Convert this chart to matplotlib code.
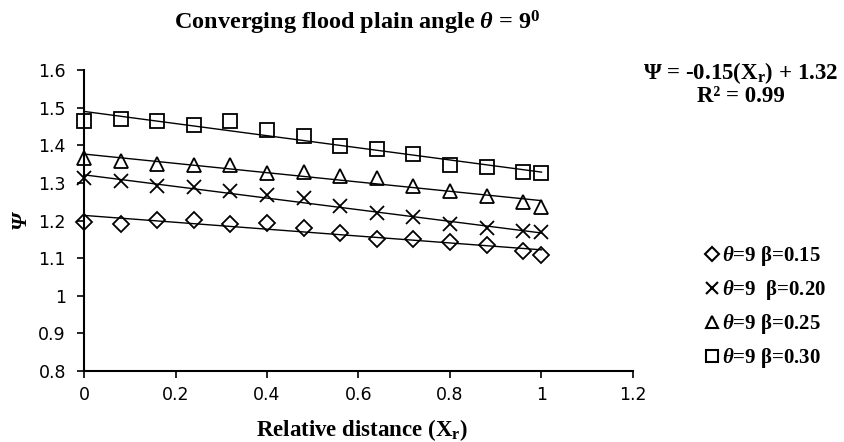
import matplotlib
matplotlib.use("Agg")
import matplotlib.pyplot as plt
from matplotlib.lines import Line2D
import numpy as np

plt.rcParams['mathtext.fontset'] = 'custom'
plt.rcParams['mathtext.rm'] = 'Liberation Serif:bold'
plt.rcParams['mathtext.bf'] = 'Liberation Serif:bold'
plt.rcParams['mathtext.it'] = 'Liberation Serif:bold:italic'
plt.rcParams['mathtext.bfit'] = 'Liberation Serif:bold:italic'

# relative distance along the channel
xr = [0, 0.08, 0.16, 0.24, 0.32, 0.40, 0.48, 0.56, 0.64, 0.72, 0.80, 0.88, 0.96, 1.0]

psi_015 = [1.197, 1.192, 1.201, 1.201, 1.190, 1.194, 1.179, 1.168, 1.150, 1.150, 1.142, 1.135, 1.119, 1.109]
psi_020 = [1.312, 1.306, 1.292, 1.288, 1.279, 1.267, 1.259, 1.238, 1.220, 1.208, 1.190, 1.180, 1.171, 1.170]
psi_025 = [1.366, 1.357, 1.351, 1.347, 1.347, 1.327, 1.329, 1.319, 1.312, 1.292, 1.279, 1.265, 1.250, 1.235]
psi_030 = [1.465, 1.469, 1.464, 1.454, 1.464, 1.440, 1.425, 1.398, 1.389, 1.378, 1.347, 1.342, 1.329, 1.327]

labels = [r"$\mathbfit{\theta}$=9 β=0.15",
          r"$\mathbfit{\theta}$=9  β=0.20",
          r"$\mathbfit{\theta}$=9 β=0.25",
          r"$\mathbfit{\theta}$=9 β=0.30"]
markers = ["D", "x", "^", "s"]
sizes = [8.5, 10, 10, 10]

xticks = [0, 0.2, 0.4, 0.6, 0.8, 1.0, 1.2]
xticklabels = ["0", "0.2", "0.4", "0.6", "0.8", "1", "1.2"]
yticks = [0.8, 0.9, 1.0, 1.1, 1.2, 1.3, 1.4, 1.5, 1.6]
yticklabels = ["0.8", "0.9", "1", "1.1", "1.2", "1.3", "1.4", "1.5", "1.6"]

W, H = 845, 442
fig = plt.figure(figsize=(W / 100, H / 100), dpi=100)
ax = fig.add_axes([84 / W, 1 - 371 / H, (633 - 84) / W, (371 - 70) / H])

series = [psi_015, psi_020, psi_025, psi_030]
handles = []
x = np.array(xr)
for ys, m, s, lab in zip(series, markers, sizes, labels):
    ax.plot(xr, ys, linestyle="none", marker=m, markersize=s,
            markerfacecolor="none", markeredgecolor="black", markeredgewidth=1.3,
            clip_on=False, zorder=3)
    # linear trend line
    k, b = np.polyfit(x, ys, 1)
    xx = np.array([0, 1.0])
    ax.plot(xx, k * xx + b, color="black", lw=1.0, zorder=2)
    handles.append(Line2D([], [], linestyle="none", marker=m, markersize=s * 0.8,
                          markerfacecolor="none", markeredgecolor="black",
                          markeredgewidth=1.5, label=lab))

ax.set_xlim(0, 1.2)
ax.set_ylim(0.8, 1.6)
ax.set_xticks(xticks)
ax.set_xticklabels(xticklabels)
ax.set_yticks(yticks)
ax.set_yticklabels(yticklabels)
for sp in ["top", "right"]:
    ax.spines[sp].set_visible(False)
for sp in ["left", "bottom"]:
    ax.spines[sp].set_linewidth(1.5)
ax.tick_params(direction="out", length=5, width=1.2, labelsize=12.5)
ax.tick_params(axis="x", pad=6)
ax.tick_params(axis="y", pad=8)
for t in ax.get_xticklabels() + ax.get_yticklabels():
    t.set_family(["Liberation Sans Narrow", "DejaVu Sans"])

serif = dict(family="Liberation Serif", fontweight="bold")
fig.text(357 / W, 1 - 23 / H, r"Converging flood plain angle $\mathbfit{\theta}$ = 9$^{\mathbf{0}}$",
         ha="center", va="center", fontsize=17.5, **serif)
fig.text(741 / W, 1 - 73 / H, r"Ψ = -0.15(X$_{\mathbf{r}}$) + 1.32",
         ha="center", va="center", fontsize=16.5, **serif)
fig.text(741 / W, 1 - 96 / H, "R² = 0.99",
         ha="center", va="center", fontsize=16.5, **serif)
fig.text(362 / W, 1 - 430 / H, r"Relative distance (X$_{\mathbf{r}}$)",
         ha="center", va="center", fontsize=16.5, **serif)
fig.text(21 / W, 1 - 220 / H, "Ψ", ha="center", va="center", rotation=90,
         fontstyle="italic", fontsize=16, family="Liberation Serif", fontweight="bold")

leg = fig.legend(handles=handles, loc="upper left", bbox_to_anchor=(707 / W, 1 - 244 / H),
                 frameon=False, handlelength=0.5, handletextpad=0.2, labelspacing=0.48,
                 borderaxespad=0, borderpad=0,
                 prop={"family": "Liberation Serif", "weight": "bold", "size": 15})

fig.savefig("out.png", dpi=100)
